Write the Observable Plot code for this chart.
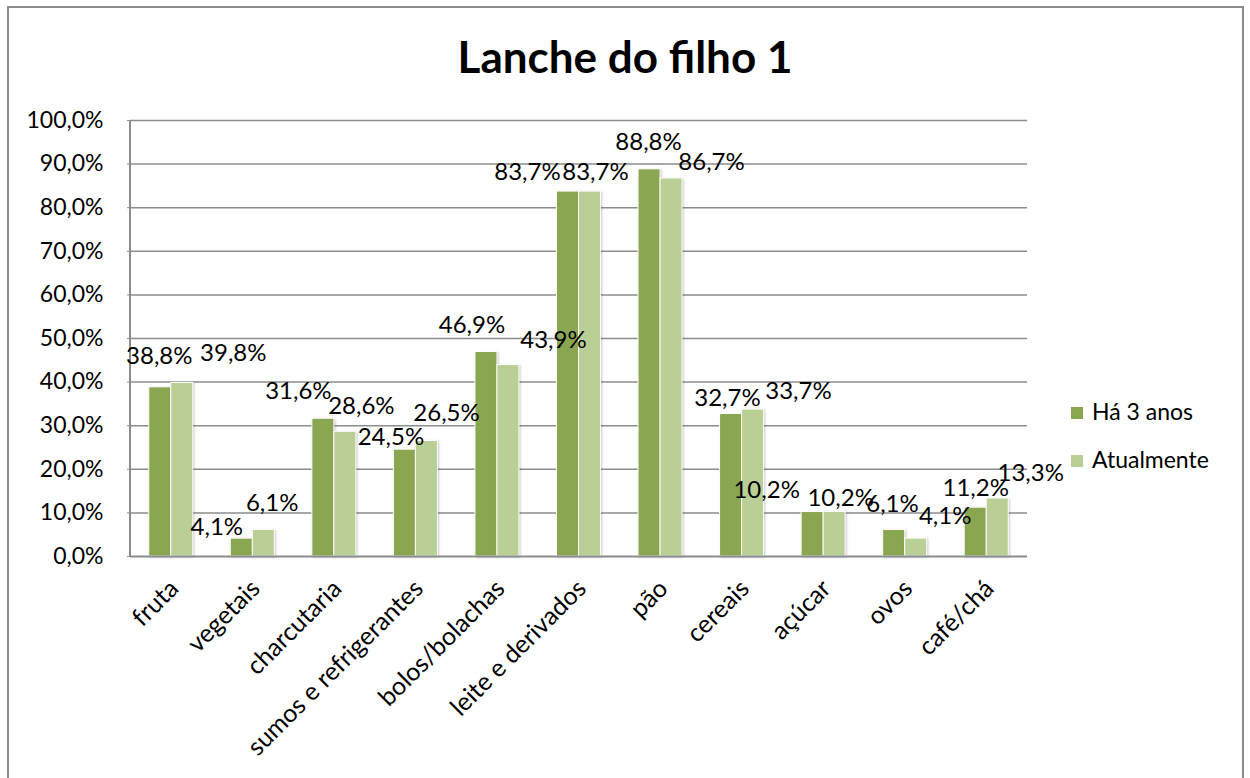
<!DOCTYPE html>
<html>
<head>
<meta charset="utf-8">
<script src="https://cdn.jsdelivr.net/npm/d3@7"></script>
<script src="https://cdn.jsdelivr.net/npm/@observablehq/plot@0.6"></script>
<style>
  html, body { margin: 0; padding: 0; background: #fff; overflow: hidden; }
  #wrap { position: relative; width: 1250px; height: 778px; font-family: Lato, "Open Sans", sans-serif; color: #000; }
  #frame { position: absolute; left: 7px; top: 6px; width: 1237px; height: 800px; border: 2px solid #8c8c8c; box-sizing: border-box; }
  #title { position: absolute; left: 0; top: 34px; width: 1250px; text-align: center; font-weight: bold; font-size: 44px; line-height: 44px; }
  #chart { position: absolute; left: 0; top: 0; }
  .lg-sw { position: absolute; width: 12px; height: 12px; }
  .lg-tx { position: absolute; font-size: 23px; line-height: 23px; white-space: nowrap; }
  g[aria-label="bar"] { filter: drop-shadow(1px 1px 1.2px rgba(0,0,0,0.22)); }
</style>
</head>
<body>
<div id="wrap">
  <div id="frame"></div>
  <div id="chart"></div>
  <div id="title">Lanche do filho 1</div>
  <div id="legend"></div>
</div>
<script>
// ---- data ----
const categories = ["fruta", "vegetais", "charcutaria", "sumos e refrigerantes", "bolos/bolachas", "leite e derivados", "pão", "cereais", "açúcar", "ovos", "café/chá"];
const seriesNames = ["Há 3 anos", "Atualmente"];
const ha3Anos = [38.8, 4.1, 31.6, 24.5, 46.9, 83.7, 88.8, 32.7, 10.2, 6.1, 11.2];
const atualmente = [39.8, 6.1, 28.6, 26.5, 43.9, 83.7, 86.7, 33.7, 10.2, 4.1, 13.3];
const yTicks = [0, 10, 20, 30, 40, 50, 60, 70, 80, 90, 100];

// ---- styling / label placement (Excel-like label nudges, px) ----
const colors = ["#8BA650", "#B9CF96"];
const labelNudgeX = [
  [-12, -36, -36, -25, -25.5, -51.5, -12, -14.6, -57, -12.7, -11],
  [62, 19.4, 27, 30.6, 56, 16.5, 51, 56.4, 17, 40, 44]
];
const labelNudgeY = [
  [-31, -11, -27, -12, -26.5, -19, -27, -16, -21.5, -26, -19],
  [-29.5, -26.4, -25, -27.5, -24.6, -19, -16, -18, -13.5, -22, -25]
];

const seriesValues = [ha3Anos, atualmente];
const rows = [];
seriesValues.forEach((vals, s) => vals.forEach((v, i) => rows.push({cat: categories[i], series: seriesNames[s], s, i, value: v})));

const fmt = v => v.toFixed(1).replace(".", ",") + "%";

const labelMarks = rows.map(d => Plot.text([d], {
  x: "cat", y: "value", text: r => fmt(r.value),
  dx: labelNudgeX[d.s][d.i], dy: labelNudgeY[d.s][d.i],
  fill: "#000", fontSize: 24
}));

const leftAxisLine = (index, scales, values, dims) => {
  const line = document.createElementNS("http://www.w3.org/2000/svg", "line");
  line.setAttribute("x1", dims.marginLeft); line.setAttribute("x2", dims.marginLeft);
  line.setAttribute("y1", scales.y(0)); line.setAttribute("y2", scales.y(100));
  line.setAttribute("stroke", "#8c8c8c"); line.setAttribute("stroke-width", "2");
  return line;
};

const chart = Plot.plot({
  width: 1250,
  height: 778,
  marginLeft: 130,
  marginRight: 223,
  marginTop: 120,
  marginBottom: 222,
  style: {fontFamily: "Lato, 'Open Sans', sans-serif", fontSize: "24px", color: "#000", background: "transparent"},
  x: {domain: categories, paddingInner: 0.46, paddingOuter: 0.23, round: false, label: null},
  y: {domain: [0, 100], label: null},
  marks: [
    Plot.gridY(yTicks.filter(t => t > 0), {stroke: "#8c8c8c", strokeOpacity: 1, strokeWidth: 1.5}),
    Plot.barY(rows.filter(d => d.s === 0), {x: "cat", y: "value", fill: colors[0], insetRight: 22, stroke: "#fff", strokeWidth: 1}),
    Plot.barY(rows.filter(d => d.s === 1), {x: "cat", y: "value", fill: colors[1], insetLeft: 22, stroke: "#fff", strokeWidth: 1}),
    Plot.ruleY([0], {stroke: "#8c8c8c", strokeWidth: 2}),
    leftAxisLine,
    Plot.axisY(yTicks, {tickFormat: fmt, tickSize: 3, tickPadding: 24, stroke: "#8c8c8c", fontSize: 23, label: null}),
    Plot.axisX({tickRotate: -45, tickSize: 0, tickPadding: 28, dx: 3, fontSize: 25, label: null}),
    ...labelMarks
  ]
});
document.getElementById("chart").appendChild(chart);

// legend
const legend = document.getElementById("legend");
const legendTops = [400, 448];
seriesNames.forEach((name, s) => {
  const sw = document.createElement("div");
  sw.className = "lg-sw";
  sw.style.left = "1071px";
  sw.style.top = (legendTops[s] + 7) + "px";
  sw.style.background = colors[s];
  legend.appendChild(sw);
  const tx = document.createElement("div");
  tx.className = "lg-tx";
  tx.style.left = "1092px";
  tx.style.top = legendTops[s] + "px";
  tx.textContent = name;
  legend.appendChild(tx);
});
</script>
</body>
</html>
